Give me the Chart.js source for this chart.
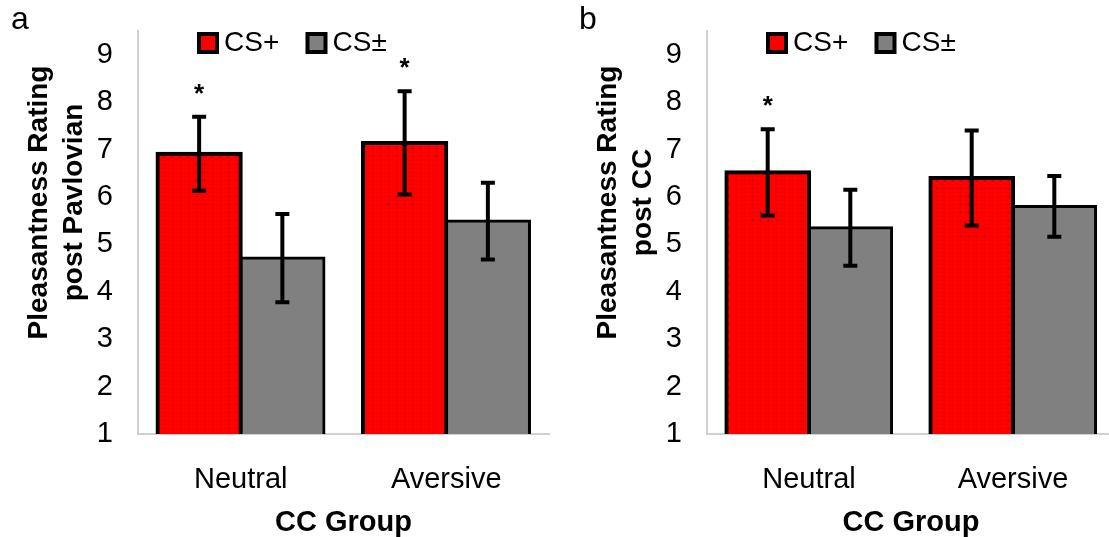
<!DOCTYPE html>
<html lang="en">
<head>
    <meta charset="UTF-8">
    <title>Pleasantness Rating</title>
    <script src="https://cdn.jsdelivr.net/npm/chart.js@4"></script>
    <style>
        html, body { margin: 0; padding: 0; background: #fff; overflow: hidden; }
        .panel { position: absolute; top: 0; }
        #panelA { left: 0; }
        #panelB { left: 556px; }
    </style>
</head>
<body>
<div class="panel" id="panelA"><canvas id="chartA" width="556" height="537"></canvas></div>
<div class="panel" id="panelB"><canvas id="chartB" width="561" height="537"></canvas></div>

<script>
// categories and series
const categories = ["Neutral", "Aversive"];
const seriesNames = ["CS+", "CS\u00B1"];
const yTicks = [1, 2, 3, 4, 5, 6, 7, 8, 9];

// panel a - rating after Pavlovian conditioning
const pavCSplus = [6.91, 7.14];
const pavCSplusErr = [0.78, 1.09];
const pavCSpm = [4.71, 5.49];
const pavCSpmErr = [0.93, 0.81];
const pavStars = [true, true];

// panel b - rating after CC
const ccCSplus = [6.52, 6.40];
const ccCSplusErr = [0.91, 1.00];
const ccCSpm = [5.35, 5.80];
const ccCSpmErr = [0.80, 0.64];
const ccStars = [true, false];

const FONT = '"Liberation Sans", Arial, sans-serif';

function dotPattern() {
    const c = document.createElement("canvas");
    c.width = 8; c.height = 8;
    const g = c.getContext("2d");
    g.fillStyle = "#ff0000";
    g.fillRect(0, 0, 8, 8);
    g.fillStyle = "#e40000";
    g.fillRect(3, 4, 3, 1);
    g.fillRect(4, 3, 1, 3);
    g.fillStyle = "#b80000";
    g.fillRect(4, 4, 1, 1);
    return g.createPattern(c, "repeat");
}

// error bars, stars, legend, y title and panel letter
const extras = {
    id: "extras",
    afterDatasetsDraw(chart) {
        const ctx = chart.ctx;
        const y = chart.scales.y;
        ctx.save();
        ctx.strokeStyle = "#000";
        ctx.fillStyle = "#000";
        ctx.lineWidth = 4;
        ctx.font = "bold 26px " + FONT;
        ctx.textAlign = "center";
        ctx.textBaseline = "middle";
        chart.data.datasets.forEach((ds, di) => {
            chart.getDatasetMeta(di).data.forEach((bar, i) => {
                const v = ds.data[i], e = ds.errors[i];
                const top = y.getPixelForValue(v + e);
                const bot = y.getPixelForValue(v - e);
                ctx.beginPath();
                ctx.moveTo(bar.x, top); ctx.lineTo(bar.x, bot);
                ctx.moveTo(bar.x - 7, top); ctx.lineTo(bar.x + 7, top);
                ctx.moveTo(bar.x - 7, bot); ctx.lineTo(bar.x + 7, bot);
                ctx.stroke();
                if (ds.stars && ds.stars[i]) {
                    ctx.fillText("*", bar.x, top - 22);
                }
            });
        });
        ctx.restore();
    },
    afterDraw(chart, args, opts) {
        const ctx = chart.ctx;
        const area = chart.chartArea;
        ctx.save();
        ctx.fillStyle = "#000";

        // legend
        let x = area.left + 59;
        const cy = 43;
        ctx.font = "28px " + FONT;
        ctx.textBaseline = "middle";
        ctx.textAlign = "left";
        chart.data.datasets.forEach(ds => {
            ctx.fillStyle = "#000";
            ctx.fillRect(x, cy - 11, 22, 22);
            ctx.fillStyle = ds.legendColor;
            ctx.fillRect(x + 4, cy - 7, 14, 14);
            ctx.fillStyle = "#000";
            ctx.fillText(ds.label, x + 27, cy);
            x += 108.5;
        });

        // y axis title
        ctx.font = "bold 28px " + FONT;
        ctx.textAlign = "center";
        const midY = (area.top + area.bottom) / 2 - 30;
        opts.yTitle.forEach((line, k) => {
            ctx.save();
            ctx.translate(area.left - opts.titleX[k], midY);
            ctx.rotate(-Math.PI / 2);
            ctx.fillText(line, 0, 0);
            ctx.restore();
        });

        // panel letter
        ctx.font = "32px " + FONT;
        ctx.textAlign = "center";
        ctx.fillText(opts.letter, opts.letterX, 20);
        ctx.restore();
    }
};

function makeChart(id, plus, plusErr, pm, pmErr, stars, yTitle, letter, letterX, yWidth, padRight) {
    const ctx = document.getElementById(id).getContext("2d");
    return new Chart(ctx, {
        type: "bar",
        data: {
            labels: categories,
            datasets: [
                {
                    label: seriesNames[0],
                    data: plus,
                    errors: plusErr,
                    stars: stars,
                    backgroundColor: dotPattern(),
                    legendColor: "#ff0000",
                    borderColor: "#000",
                    borderWidth: 4,
                    borderSkipped: false,
                    inflateAmount: 2,
                    categoryPercentage: 0.81,
                    barPercentage: 1
                },
                {
                    label: seriesNames[1],
                    data: pm,
                    errors: pmErr,
                    backgroundColor: "#808080",
                    legendColor: "#808080",
                    borderColor: "#000",
                    borderWidth: 3,
                    borderSkipped: false,
                    inflateAmount: 1.5,
                    categoryPercentage: 0.81,
                    barPercentage: 1
                }
            ]
        },
        options: {
            responsive: false,
            animation: false,
            events: [],
            layout: { padding: { top: 31, right: padRight, bottom: 0, left: 0 } },
            plugins: {
                legend: { display: false },
                tooltip: { enabled: false },
                extras: { yTitle: yTitle, titleX: [99, 64], letter: letter, letterX: letterX }
            },
            scales: {
                x: {
                    grid: { display: false, drawTicks: false },
                    border: { display: true, color: "#d0d0d0", width: 2 },
                    ticks: {
                        color: "#000",
                        font: { family: FONT, size: 29 },
                        padding: 29,
                        maxRotation: 0,
                        autoSkip: false
                    },
                    title: {
                        display: true,
                        text: "CC Group",
                        color: "#000",
                        font: { family: FONT, size: 29, weight: "bold" },
                        padding: { top: 0, bottom: -3 }
                    },
                    afterFit: s => {
                        s.height = 103;
                        s.paddingLeft = 0; s.paddingRight = 0;
                    }
                },
                y: {
                    min: 1,
                    max: 9.5,
                    grid: { display: false, drawTicks: false },
                    border: { display: true, color: "#d0d0d0", width: 2 },
                    ticks: {
                        color: "#000",
                        font: { family: FONT, size: 29 },
                        padding: 25
                    },
                    afterBuildTicks: s => { s.ticks = yTicks.map(v => ({ value: v })); },
                    afterFit: s => {
                        s.width = yWidth;
                        s.paddingTop = 0; s.paddingBottom = 0;
                    }
                }
            }
        },
        plugins: [extras]
    });
}

makeChart("chartA", pavCSplus, pavCSplusErr, pavCSpm, pavCSpmErr, pavStars,
    ["Pleasantness Rating", "post Pavlovian"], "a", 20, 138, 7);
makeChart("chartB", ccCSplus, ccCSplusErr, ccCSpm, ccCSpmErr, ccStars,
    ["Pleasantness Rating", "post CC"], "b", 32, 151, 2);
</script>
</body>
</html>
